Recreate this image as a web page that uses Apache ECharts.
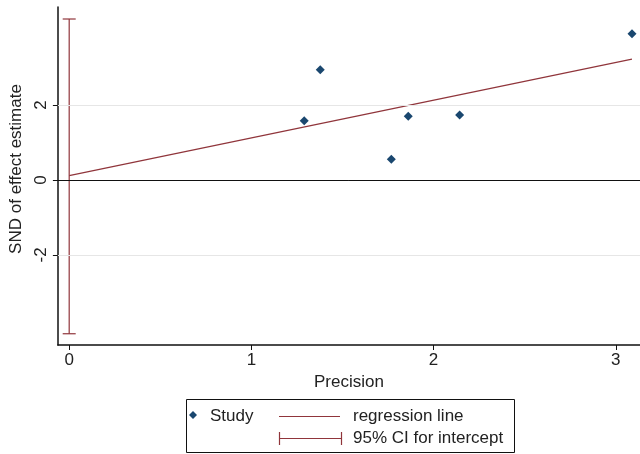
<!DOCTYPE html>
<html>
<head>
<meta charset="utf-8">
<script src="https://cdn.jsdelivr.net/npm/echarts@6/dist/echarts.min.js"></script>
<style>
  html, body { margin: 0; padding: 0; background: #fff; }
  #chart { width: 640px; height: 454px; }
</style>
</head>
<body>
<div id="chart"></div>
<script>
// studies: precision vs standard normal deviate
const studyPrecision = [1.29, 1.378, 1.768, 1.861, 2.143, 3.089];
const studySND = [1.58, 2.94, 0.55, 1.70, 1.73, 3.90];

// regression line end points
const regX = [0, 3.089];
const regY = [0.115, 3.22];

// 95% CI for intercept: [x, low, high]
const ciIntercept = [[0, -4.1, 4.29]];

const xTicks = [0, 1, 2, 3];
const yTicks = [-2, 0, 2];

const navy = '#1a476f';
const maroon = '#90353b';
const font = 'Liberation Sans, Arial, sans-serif';

const chart = echarts.init(document.getElementById('chart'));

const option = {
  animation: false,
  backgroundColor: '#fff',
  grid: { left: 57, right: 0, top: 7, bottom: 109 },
  xAxis: {
    type: 'value',
    min: -0.062,
    max: 3.133,
    name: 'Precision',
    nameLocation: 'middle',
    nameGap: 25,
    nameTextStyle: { fontFamily: font, fontSize: 17, color: '#222' },
    axisLine: { onZero: false, lineStyle: { color: '#111', width: 1.5 } },
    axisTick: { show: true, length: 5, customValues: xTicks, lineStyle: { color: '#111' } },
    axisLabel: { customValues: xTicks, fontFamily: font, fontSize: 17, color: '#222', margin: 7 },
    splitLine: { show: false }
  },
  yAxis: {
    type: 'value',
    min: -4.4,
    max: 4.61,
    name: 'SND of effect estimate',
    nameLocation: 'middle',
    nameGap: 30,
    nameTextStyle: { fontFamily: font, fontSize: 17, color: '#222', padding: [0, 0, 0, 14] },
    axisLine: { onZero: false, lineStyle: { color: '#111', width: 1.5 } },
    axisTick: { show: true, length: 5, customValues: yTicks, lineStyle: { color: '#111' } },
    axisLabel: { customValues: yTicks, rotate: 90, fontFamily: font, fontSize: 17, color: '#222', margin: 8 },
    splitLine: { show: false }
  },
  series: [
    {
      type: 'scatter',
      name: 'Study',
      data: studyPrecision.map((x, i) => [x, studySND[i]]),
      symbol: 'diamond',
      symbolSize: 9,
      itemStyle: { color: navy, opacity: 1 },
      z: 5,
      markLine: {
        silent: true,
        symbol: 'none',
        label: { show: false },
        data: [
          { yAxis: yTicks[0], lineStyle: { color: '#e6e6e6', width: 1, type: 'solid' } },
          { yAxis: yTicks[1], lineStyle: { color: '#111', width: 1, type: 'solid' } },
          { yAxis: yTicks[2], lineStyle: { color: '#e6e6e6', width: 1, type: 'solid' } }
        ]
      }
    },
    {
      type: 'line',
      name: 'regression line',
      data: regX.map((x, i) => [x, regY[i]]),
      showSymbol: false,
      lineStyle: { color: maroon, width: 1.2 },
      z: 3
    },
    {
      type: 'custom',
      name: '95% CI for intercept',
      data: ciIntercept,
      encode: { x: 0, y: [1, 2] },
      z: 4,
      renderItem: function (params, api) {
        const x = api.value(0);
        const lo = api.coord([x, api.value(1)]);
        const hi = api.coord([x, api.value(2)]);
        const cap = 6.5;
        const style = { stroke: maroon, lineWidth: 1.2 };
        return {
          type: 'group',
          children: [
            { type: 'line', shape: { x1: lo[0], y1: lo[1], x2: hi[0], y2: hi[1] }, style },
            { type: 'line', shape: { x1: lo[0] - cap, y1: lo[1], x2: lo[0] + cap, y2: lo[1] }, style },
            { type: 'line', shape: { x1: hi[0] - cap, y1: hi[1], x2: hi[0] + cap, y2: hi[1] }, style }
          ]
        };
      }
    }
  ],
  graphic: [
    // legend box
    { type: 'rect', shape: { x: 186.5, y: 399.5, width: 328, height: 53 }, style: { fill: '#fff', stroke: '#111', lineWidth: 1 } },
    { type: 'polygon', shape: { points: [[193, 411], [197, 415], [193, 419], [189, 415]] }, style: { fill: navy } },
    { type: 'text', left: 210, top: 408, style: { text: 'Study', font: '17px ' + font, fill: '#222' } },
    { type: 'line', shape: { x1: 279, y1: 416.5, x2: 340, y2: 416.5 }, style: { stroke: maroon, lineWidth: 1.2 } },
    { type: 'text', left: 353, top: 408, style: { text: 'regression line', font: '17px ' + font, fill: '#222' } },
    { type: 'line', shape: { x1: 279, y1: 438.5, x2: 341, y2: 438.5 }, style: { stroke: maroon, lineWidth: 1.2 } },
    { type: 'line', shape: { x1: 279.5, y1: 432, x2: 279.5, y2: 445 }, style: { stroke: maroon, lineWidth: 1.2 } },
    { type: 'line', shape: { x1: 341.5, y1: 432, x2: 341.5, y2: 445 }, style: { stroke: maroon, lineWidth: 1.2 } },
    { type: 'text', left: 353, top: 430, style: { text: '95% CI for intercept', font: '17px ' + font, fill: '#222' } }
  ]
};

chart.setOption(option);
</script>
</body>
</html>
